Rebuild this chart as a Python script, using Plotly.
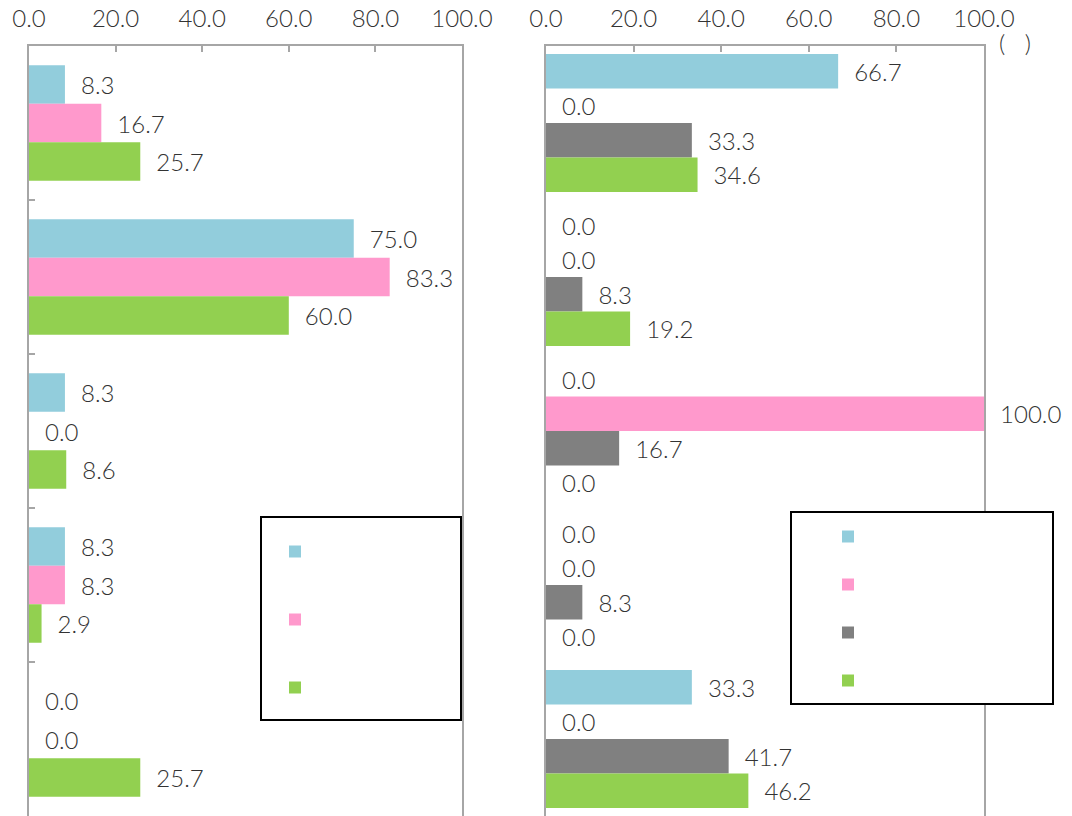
import plotly.graph_objects as go

# ---- data ----
left_categories = ["c1", "c2", "c3", "c4", "c5"]
left_blue = [8.3, 75.0, 8.3, 8.3, 0.0]
left_pink = [16.7, 83.3, 0.0, 8.3, 0.0]
left_green = [25.7, 60.0, 8.6, 2.9, 25.7]

right_categories = ["c1", "c2", "c3", "c4", "c5"]
right_blue = [66.7, 0.0, 0.0, 0.0, 33.3]
right_pink = [0.0, 0.0, 100.0, 0.0, 0.0]
right_gray = [33.3, 8.3, 16.7, 8.3, 41.7]
right_green = [34.6, 19.2, 0.0, 0.0, 46.2]

x_ticks = [0, 20, 40, 60, 80, 100]

BLUE = "#92CDDC"
PINK = "#FF99CC"
GRAY = "#808080"
GREEN = "#92D050"
AXIS = "#A6A6A6"
TXT = "#333333"
FONT = "Lato"
FS = 24

H = 816
TOP = 46
BOT = 816
PH = BOT - TOP
L = 29
R = 984
PW = R - L

fig = go.Figure()

def add_bar(x, y, color, xa, ya, offset, width, legend, group):
    fig.add_trace(go.Bar(
        x=x, y=y, orientation="h", marker=dict(color=color, line=dict(width=0)),
        xaxis=xa, yaxis=ya, offset=offset, width=width,
        texttemplate="\u00a0\u00a0%{x:.1f}", textposition="outside",
        textfont=dict(family=FONT, size=FS, color=TXT, weight=300),
        constraintext="none", cliponaxis=False,
        name="", legend=legend, legendgroup=group, showlegend=True,
    ))

lw = 0.25
add_bar(left_blue, left_categories, BLUE, "x", "y", -1.5 * lw, lw, "legend", "l1")
add_bar(left_pink, left_categories, PINK, "x", "y", -0.5 * lw, lw, "legend", "l2")
add_bar(left_green, left_categories, GREEN, "x", "y", 0.5 * lw, lw, "legend", "l3")

rw = 0.224
add_bar(right_blue, right_categories, BLUE, "x2", "y2", -2 * rw, rw, "legend2", "r1")
add_bar(right_pink, right_categories, PINK, "x2", "y2", -1 * rw, rw, "legend2", "r2")
add_bar(right_gray, right_categories, GRAY, "x2", "y2", 0, rw, "legend2", "r3")
add_bar(right_green, right_categories, GREEN, "x2", "y2", rw, rw, "legend2", "r4")

xcommon = dict(range=[0, 100], tickvals=x_ticks, tickformat=".1f", side="top",
               ticks="inside", ticklen=6, tickwidth=2, tickcolor=AXIS,
               showline=True, linecolor=AXIS, linewidth=2, mirror=True,
               showgrid=False, zeroline=False, automargin=False,
               ticklabelstandoff=7,
               tickfont=dict(family=FONT, size=FS, color=TXT, weight=300))

def px_x(p):
    return (p - L) / PW

def px_y(p):
    return (BOT - p) / PH

fig.update_layout(
    width=1072, height=H,
    margin=dict(l=L, r=1072 - R, t=TOP, b=H - BOT, pad=0),
    plot_bgcolor="white", paper_bgcolor="white",
    barmode="overlay", showlegend=True,
    xaxis=dict(domain=[0, px_x(462)], anchor="y", **xcommon),
    xaxis2=dict(domain=[px_x(546), 1], anchor="y2", **xcommon),
    yaxis=dict(range=[4.5, -0.5], anchor="x", showticklabels=False, automargin=False,
               ticks="inside", tickson="boundaries", ticklen=6, tickwidth=2, tickcolor=AXIS,
               showline=True, linecolor=AXIS, linewidth=2, mirror=True, showgrid=False),
    yaxis2=dict(range=[4.5, -0.5], anchor="x2", showticklabels=False, ticks="", automargin=False,
                showline=True, linecolor=AXIS, linewidth=2, mirror=True, showgrid=False),
    legend=dict(x=px_x(275), y=px_y(537), xanchor="left", yanchor="top",
                bgcolor="rgba(0,0,0,0)", borderwidth=0, tracegroupgap=49,
                traceorder="grouped", font=dict(size=12)),
    legend2=dict(x=px_x(828), y=px_y(522), xanchor="left", yanchor="top",
                 bgcolor="rgba(0,0,0,0)", borderwidth=0, tracegroupgap=29,
                 traceorder="grouped", font=dict(size=12)),
    shapes=[
        dict(type="rect", xref="paper", yref="paper",
             x0=px_x(261), x1=px_x(461), y0=px_y(720), y1=px_y(517),
             line=dict(color="black", width=2), fillcolor="white", layer="below"),
        dict(type="rect", xref="paper", yref="paper",
             x0=px_x(791), x1=px_x(1053), y0=px_y(704), y1=px_y(512),
             line=dict(color="black", width=2), fillcolor="white", layer="above"),
    ],
    annotations=[dict(text="(\u00a0\u00a0\u00a0)", xref="paper", yref="paper",
                      x=px_x(1015), y=px_y(42), xanchor="center", yanchor="middle",
                      showarrow=False,
                      font=dict(family=FONT, size=FS, color=TXT, weight=300))],
)

fig.write_html("out.html", post_script="document.body.style.margin='0';",
               config={"displayModeBar": False})
